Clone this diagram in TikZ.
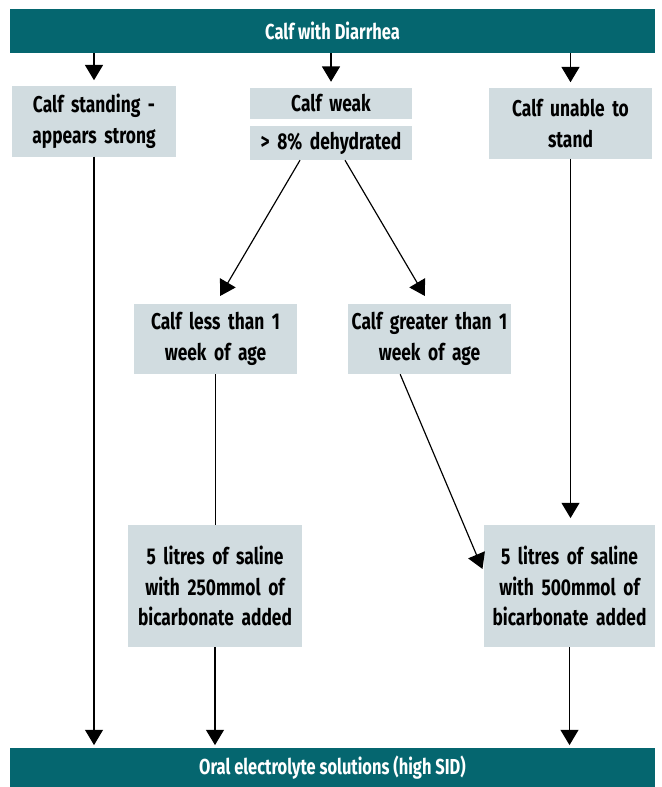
\documentclass[tikz,border=0pt]{standalone}
\usepackage{fontspec}
\setmainfont{Fira Sans}[FakeStretch=0.76]
\usetikzlibrary{calc,positioning,arrows.meta}
\definecolor{teal}{HTML}{05666F}
\definecolor{boxgray}{HTML}{D1DCE0}

\begin{document}
\begin{tikzpicture}[
    x=0.03cm, y=-0.03cm,
    >={Triangle[width=0.54cm,length=0.46cm]},
    every node/.style={font=\fontsize{19.5}{26}\selectfont\bfseries},
    bar/.style={fill=teal,text=white,inner sep=0pt,minimum width=19.35cm,
      font=\fontsize{18.5}{20}\selectfont\bfseries},
    stage/.style={fill=boxgray,inner sep=0pt,align=center,text width=4.8cm,
      minimum width=4.9cm,minimum height=2.1cm},
    arr/.style={->,line width=1pt}
    ]
    \useasboundingbox (0,0) rectangle (661,787);

    \node (top) [bar,minimum height=1.32cm] at (332.5,31) {Calf with Diarrhea};
    \node (bottom) [bar,minimum height=1.2cm] at (332.5,768) {Oral electrolyte solutions (high SID)};

    \node (stand) [stage] at (94,121.5) {Calf standing -\\appears strong};
    \node (weak) [stage,minimum height=0.93cm,minimum width=4.86cm] at (331,103.5) {Calf weak};
    \node (dehyd) [stage,minimum height=1.02cm,minimum width=4.86cm] at (331,143) {> 8\% dehydrated};
    \node (unable) [stage] at (570.5,123.5) {Calf unable to\\stand};

    \node (less) [stage] at (215.5,339) {Calf less than 1\\week of age};
    \node (greater) [stage] at (429.5,339) {Calf greater than 1\\week of age};

    \node (sal250) [stage,minimum width=5.22cm,minimum height=3.66cm] at (215,586) {5 litres of saline\\with 250mmol of\\bicarbonate added};
    \node (sal500) [stage,minimum width=5.13cm,minimum height=3.66cm] at (569.5,586) {5 litres of saline\\with 500mmol of\\bicarbonate added};

    \draw[arr,shorten >=0.18cm] (stand.north |- top.south) to (stand.north);
    \draw[arr,shorten >=0.18cm] (weak.north |- top.south) to (weak.north);
    \draw[arr,shorten >=0.18cm] (unable.north |- top.south) to (unable.north);

    \draw[arr,shorten >=0.27cm] ([xshift=-0.93cm]dehyd.south) to (less.north);
    \draw[arr,shorten >=0.27cm] ([xshift=0.42cm]dehyd.south) to (greater.north);

    \draw[line width=1pt] (less.south) to (less.south |- sal250.north);
    \draw[arr,shorten >=0.1cm] ([xshift=-0.88cm]greater.south) to ([yshift=0.42cm]sal500.west);
    \draw[arr,shorten >=0.2cm] (unable.south) to (unable.south |- sal500.north);

    \draw[arr,shorten >=0.08cm] (stand.south) to (stand.south |- bottom.north);
    \draw[arr,shorten >=0.08cm] (sal250.south) to (sal250.south |- bottom.north);
    \draw[arr,shorten >=0.08cm] (sal500.south) to (sal500.south |- bottom.north);

  \end{tikzpicture}
\end{document}
